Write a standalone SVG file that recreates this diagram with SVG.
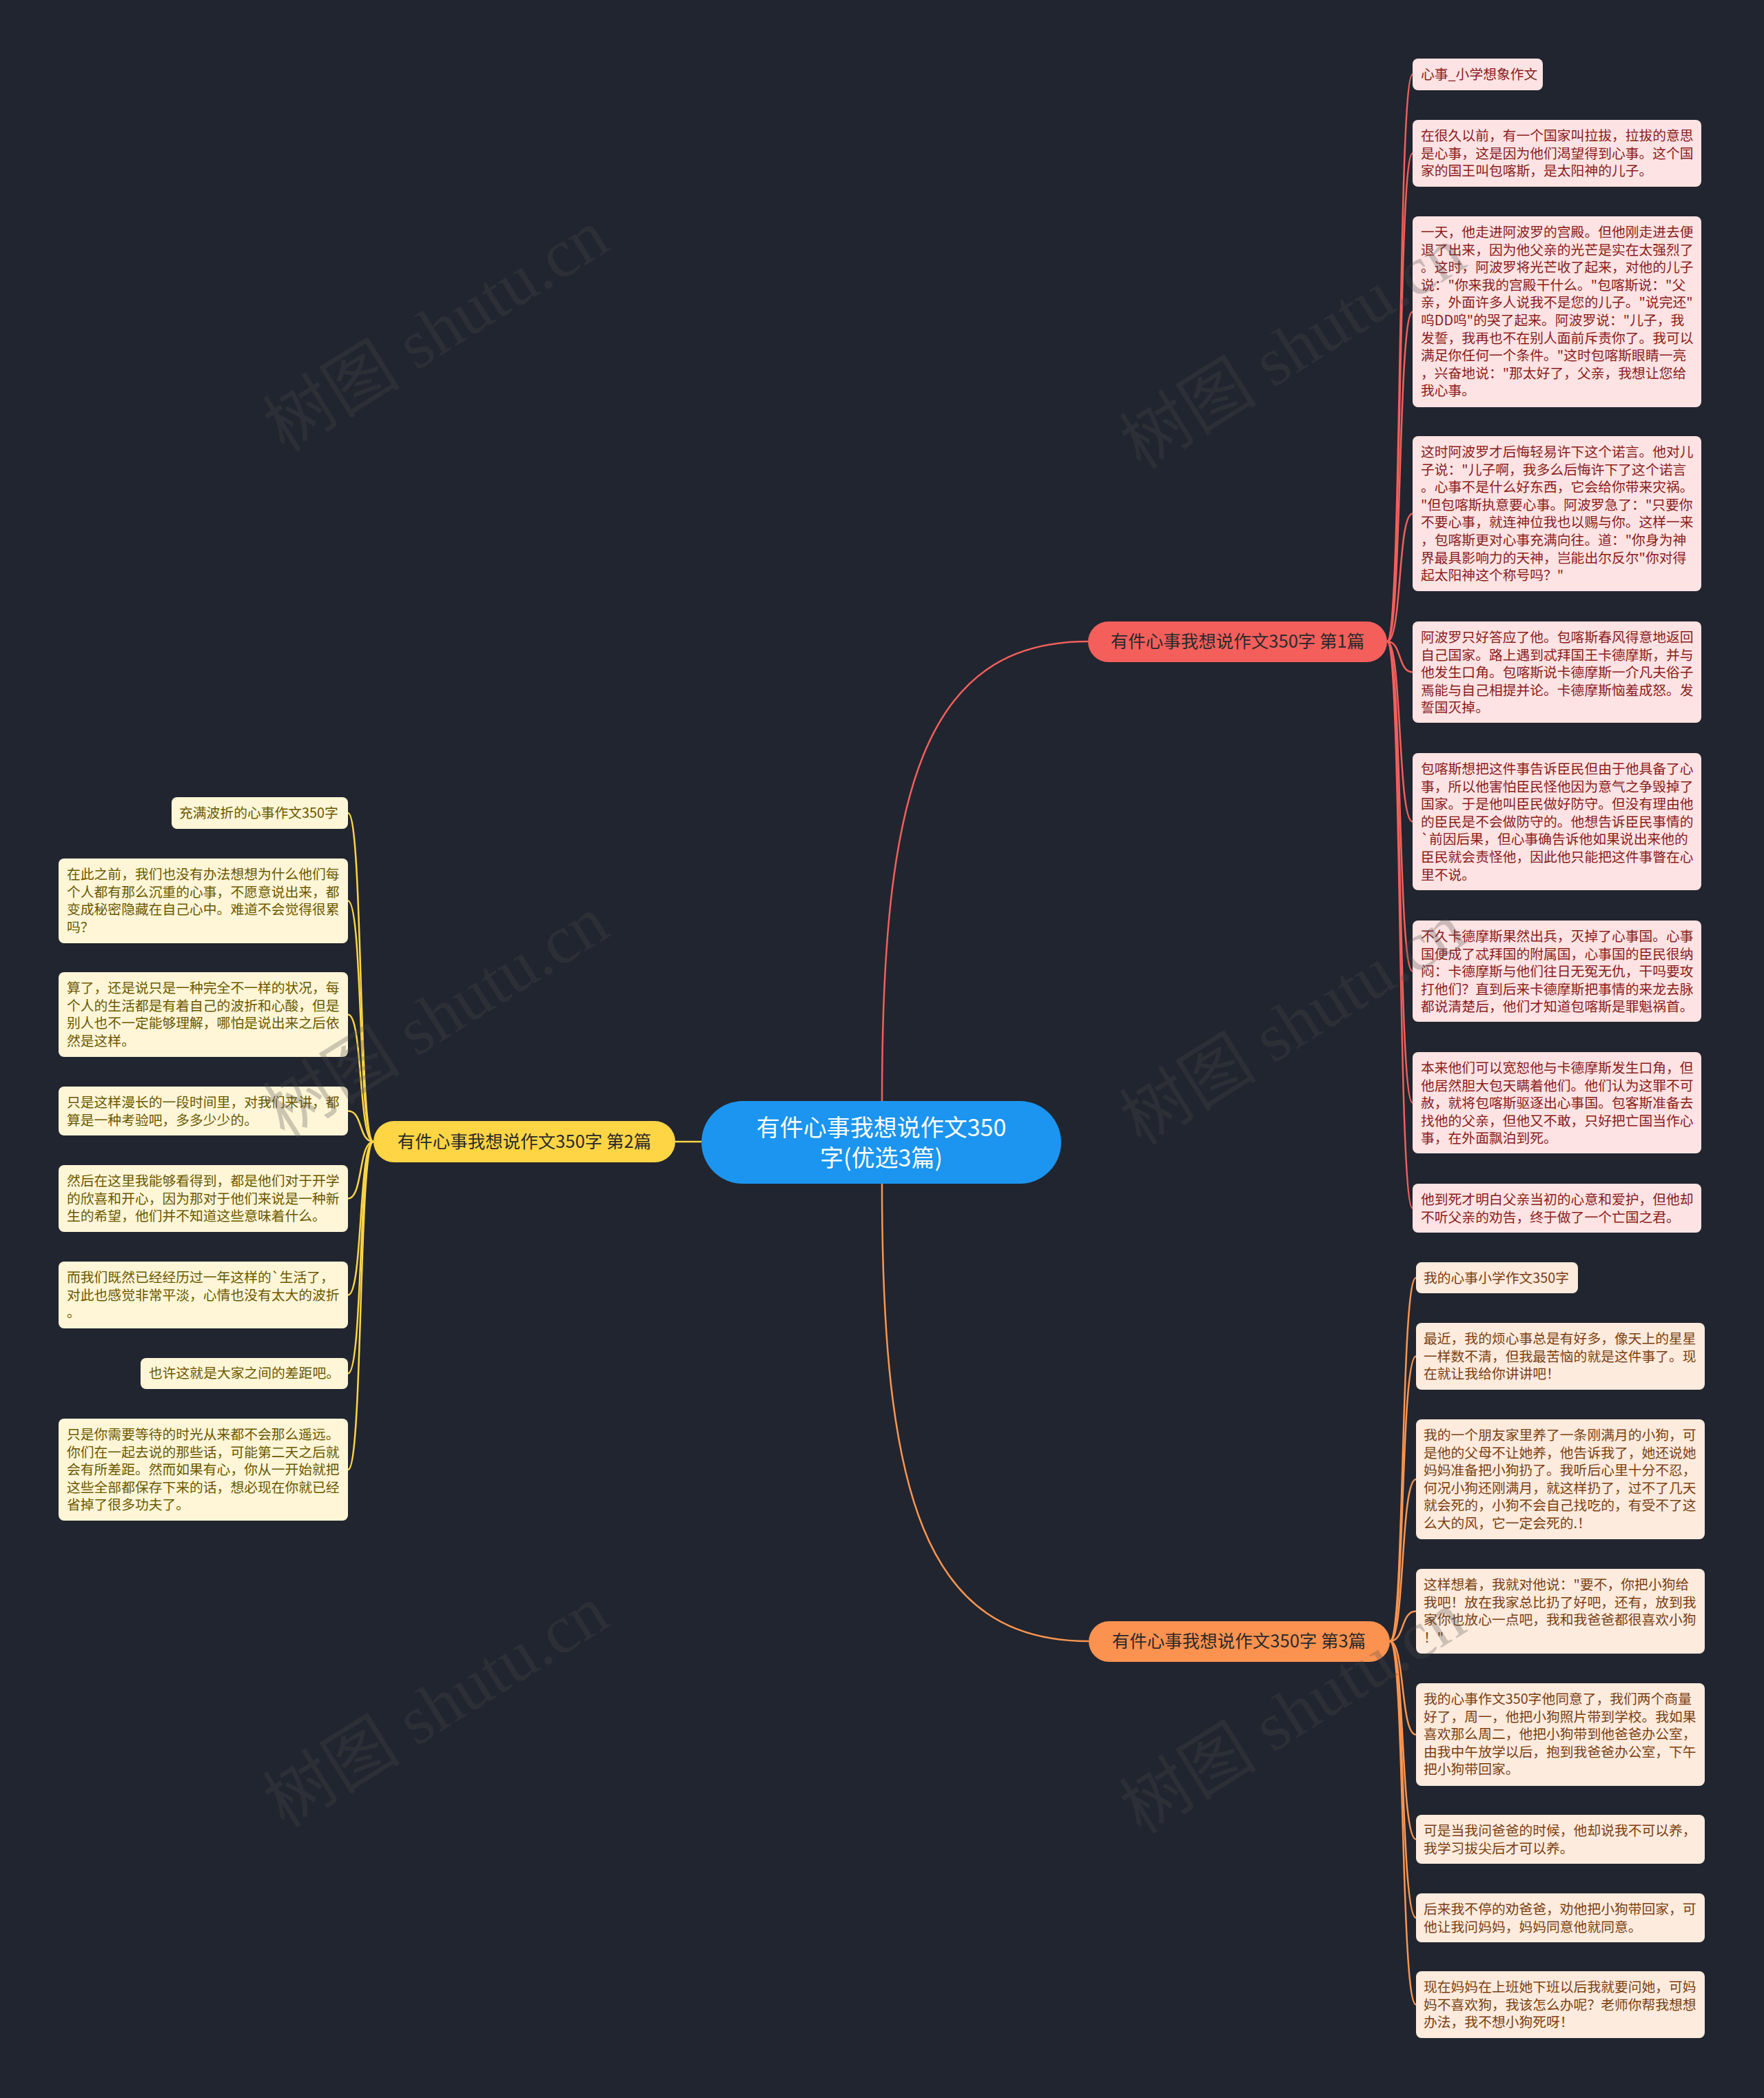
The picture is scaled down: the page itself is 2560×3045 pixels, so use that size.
<svg xmlns="http://www.w3.org/2000/svg" width="2560" height="3045" viewBox="0 0 2560 3045">
<style>
.bg{fill:#21252f}
.con{fill:none;stroke-width:2.5}
.cr{stroke:#f25f5c}
.co{stroke:#fb9550}
.cy{stroke:#fdd545}
text{font-family:"Noto Sans CJK SC","Noto Sans",sans-serif}
.lr rect{fill:#fde3e3}
.lr text{fill:#8a1c1c;font-size:19.8px}
.lo rect{fill:#fdebdd}
.lo text{fill:#7b3f12;font-size:19.8px}
.ly rect{fill:#fef6d7}
.ly text{fill:#6b5800;font-size:19.8px}
.br text{fill:#2a2a2a;font-size:25.5px;text-anchor:middle}
.wm{font-family:"Liberation Serif","Noto Sans CJK SC",serif;font-size:100px;fill:#4c4c4c;fill-opacity:0.28;text-anchor:middle}
</style>
<rect class="bg" x="0" y="0" width="2560" height="3045"/>

<g id="connectors">
<path class="con cr" stroke-width="3" d="M1280,1598 C1280,1150 1340,931 1579,931"/>
<path class="con co" stroke-width="3" d="M1280,1718 C1280,2166 1340,2382 1580,2382"/>
<path class="con cy" stroke-width="3" d="M1018,1657 L980,1657"/>
<path class="con cr" d="M2013,931 C2035,931 2028,108 2050,108"/>
<path class="con cr" d="M2013,931 C2035,931 2028,222.5 2050,222.5"/>
<path class="con cr" d="M2013,931 C2035,931 2028,452.5 2050,452.5"/>
<path class="con cr" d="M2013,931 C2035,931 2028,745.5 2050,745.5"/>
<path class="con cr" d="M2013,931 C2035,931 2028,975.5 2050,975.5"/>
<path class="con cr" d="M2013,931 C2035,931 2028,1192.5 2050,1192.5"/>
<path class="con cr" d="M2013,931 C2035,931 2028,1409.5 2050,1409.5"/>
<path class="con cr" d="M2013,931 C2035,931 2028,1600.5 2050,1600.5"/>
<path class="con cr" d="M2013,931 C2035,931 2028,1753.5 2050,1753.5"/>
<path class="con co" d="M2017,2382 C2039,2382 2032,1854.5 2055,1854.5"/>
<path class="con co" d="M2017,2382 C2039,2382 2032,1968.5 2055,1968.5"/>
<path class="con co" d="M2017,2382 C2039,2382 2032,2147 2055,2147"/>
<path class="con co" d="M2017,2382 C2039,2382 2032,2338.5 2055,2338.5"/>
<path class="con co" d="M2017,2382 C2039,2382 2032,2517.5 2055,2517.5"/>
<path class="con co" d="M2017,2382 C2039,2382 2032,2669.5 2055,2669.5"/>
<path class="con co" d="M2017,2382 C2039,2382 2032,2783.5 2055,2783.5"/>
<path class="con co" d="M2017,2382 C2039,2382 2032,2909.5 2055,2909.5"/>
<path class="con cy" d="M542,1657 C520,1657 527,1180 505,1180"/>
<path class="con cy" d="M542,1657 C520,1657 527,1307.5 505,1307.5"/>
<path class="con cy" d="M542,1657 C520,1657 527,1472.5 505,1472.5"/>
<path class="con cy" d="M542,1657 C520,1657 527,1612.5 505,1612.5"/>
<path class="con cy" d="M542,1657 C520,1657 527,1739.5 505,1739.5"/>
<path class="con cy" d="M542,1657 C520,1657 527,1879.5 505,1879.5"/>
<path class="con cy" d="M542,1657 C520,1657 527,1993.5 505,1993.5"/>
<path class="con cy" d="M542,1657 C520,1657 527,2133 505,2133"/>
</g>

<g id="center">
<rect x="1018" y="1598" width="522" height="120" rx="60" fill="#1b95ef"/>
<text x="1279" y="1649" fill="#ffffff" font-size="34" text-anchor="middle">有件心事我想说作文350</text>
<text x="1279" y="1693" fill="#ffffff" font-size="34" text-anchor="middle">字(优选3篇)</text>
</g>

<g id="branch1" class="br">
<rect x="1579" y="902" width="434" height="59" rx="29.5" fill="#f45f5c"/>
<text x="1796" y="940">有件心事我想说作文350字 第1篇</text>
</g>
<g id="branch2" class="br">
<rect x="542" y="1627" width="438" height="60" rx="30" fill="#fdd545"/>
<text x="761" y="1666">有件心事我想说作文350字 第2篇</text>
</g>
<g id="branch3" class="br">
<rect x="1580" y="2353" width="437" height="59" rx="29.5" fill="#fc9250"/>
<text x="1798" y="2391">有件心事我想说作文350字 第3篇</text>
</g>

<g id="r1" class="lr"><rect x="2050" y="85" width="189" height="46" rx="8"/>
<text x="2062" y="115">心事_小学想象作文</text></g>
<g id="r2" class="lr"><rect x="2050" y="174" width="419" height="97" rx="8"/>
<text x="2062" y="204"><tspan x="2062">在很久以前，有一个国家叫拉拔，拉拔的意思</tspan><tspan x="2062" dy="25.6">是心事，这是因为他们渴望得到心事。这个国</tspan><tspan x="2062" dy="25.6">家的国王叫包喀斯，是太阳神的儿子。</tspan></text></g>
<g id="r3" class="lr"><rect x="2050" y="314" width="419" height="277" rx="8"/>
<text x="2062" y="344"><tspan x="2062">一天，他走进阿波罗的宫殿。但他刚走进去便</tspan><tspan x="2062" dy="25.6">退了出来，因为他父亲的光芒是实在太强烈了</tspan><tspan x="2062" dy="25.6">。这时，阿波罗将光芒收了起来，对他的儿子</tspan><tspan x="2062" dy="25.6">说："你来我的宫殿干什么。"包喀斯说："父</tspan><tspan x="2062" dy="25.6">亲，外面许多人说我不是您的儿子。"说完还"</tspan><tspan x="2062" dy="25.6">呜DD呜"的哭了起来。阿波罗说："儿子，我</tspan><tspan x="2062" dy="25.6">发誓，我再也不在别人面前斥责你了。我可以</tspan><tspan x="2062" dy="25.6">满足你任何一个条件。"这时包喀斯眼睛一亮</tspan><tspan x="2062" dy="25.6">，兴奋地说："那太好了，父亲，我想让您给</tspan><tspan x="2062" dy="25.6">我心事。</tspan></text></g>
<g id="r4" class="lr"><rect x="2050" y="633" width="419" height="225" rx="8"/>
<text x="2062" y="663"><tspan x="2062">这时阿波罗才后悔轻易许下这个诺言。他对儿</tspan><tspan x="2062" dy="25.6">子说："儿子啊，我多么后悔许下了这个诺言</tspan><tspan x="2062" dy="25.6">。心事不是什么好东西，它会给你带来灾祸。</tspan><tspan x="2062" dy="25.6">"但包喀斯执意要心事。阿波罗急了："只要你</tspan><tspan x="2062" dy="25.6">不要心事，就连神位我也以赐与你。这样一来</tspan><tspan x="2062" dy="25.6">，包喀斯更对心事充满向往。道："你身为神</tspan><tspan x="2062" dy="25.6">界最具影响力的天神，岂能出尔反尔"你对得</tspan><tspan x="2062" dy="25.6">起太阳神这个称号吗？"</tspan></text></g>
<g id="r5" class="lr"><rect x="2050" y="902" width="419" height="147" rx="8"/>
<text x="2062" y="932"><tspan x="2062">阿波罗只好答应了他。包喀斯春风得意地返回</tspan><tspan x="2062" dy="25.6">自己国家。路上遇到忒拜国王卡德摩斯，并与</tspan><tspan x="2062" dy="25.6">他发生口角。包喀斯说卡德摩斯一介凡夫俗子</tspan><tspan x="2062" dy="25.6">焉能与自己相提并论。卡德摩斯恼羞成怒。发</tspan><tspan x="2062" dy="25.6">誓国灭掉。</tspan></text></g>
<g id="r6" class="lr"><rect x="2050" y="1093" width="419" height="199" rx="8"/>
<text x="2062" y="1123"><tspan x="2062">包喀斯想把这件事告诉臣民但由于他具备了心</tspan><tspan x="2062" dy="25.6">事，所以他害怕臣民怪他因为意气之争毁掉了</tspan><tspan x="2062" dy="25.6">国家。于是他叫臣民做好防守。但没有理由他</tspan><tspan x="2062" dy="25.6">的臣民是不会做防守的。他想告诉臣民事情的</tspan><tspan x="2062" dy="25.6">`前因后果，但心事确告诉他如果说出来他的</tspan><tspan x="2062" dy="25.6">臣民就会责怪他，因此他只能把这件事瞥在心</tspan><tspan x="2062" dy="25.6">里不说。</tspan></text></g>
<g id="r7" class="lr"><rect x="2050" y="1336" width="419" height="147" rx="8"/>
<text x="2062" y="1366"><tspan x="2062">不久卡德摩斯果然出兵，灭掉了心事国。心事</tspan><tspan x="2062" dy="25.6">国便成了忒拜国的附属国，心事国的臣民很纳</tspan><tspan x="2062" dy="25.6">闷：卡德摩斯与他们往日无冤无仇，干吗要攻</tspan><tspan x="2062" dy="25.6">打他们？直到后来卡德摩斯把事情的来龙去脉</tspan><tspan x="2062" dy="25.6">都说清楚后，他们才知道包喀斯是罪魁祸首。</tspan></text></g>
<g id="r8" class="lr"><rect x="2050" y="1527" width="419" height="147" rx="8"/>
<text x="2062" y="1557"><tspan x="2062">本来他们可以宽恕他与卡德摩斯发生口角，但</tspan><tspan x="2062" dy="25.6">他居然胆大包天瞒着他们。他们认为这罪不可</tspan><tspan x="2062" dy="25.6">赦，就将包喀斯驱逐出心事国。包客斯准备去</tspan><tspan x="2062" dy="25.6">找他的父亲，但他又不敢，只好把亡国当作心</tspan><tspan x="2062" dy="25.6">事，在外面飘泊到死。</tspan></text></g>
<g id="r9" class="lr"><rect x="2050" y="1718" width="419" height="71" rx="8"/>
<text x="2062" y="1748"><tspan x="2062">他到死才明白父亲当初的心意和爱护，但他却</tspan><tspan x="2062" dy="25.6">不听父亲的劝告，终于做了一个亡国之君。</tspan></text></g>

<g id="o1" class="lo"><rect x="2055" y="1832" width="235" height="45" rx="8"/>
<text x="2066" y="1862">我的心事小学作文350字</text></g>
<g id="o2" class="lo"><rect x="2055" y="1920" width="419" height="97" rx="8"/>
<text x="2066" y="1950"><tspan x="2066">最近，我的烦心事总是有好多，像天上的星星</tspan><tspan x="2066" dy="25.6">一样数不清，但我最苦恼的就是这件事了。现</tspan><tspan x="2066" dy="25.6">在就让我给你讲讲吧！</tspan></text></g>
<g id="o3" class="lo"><rect x="2055" y="2060" width="419" height="174" rx="8"/>
<text x="2066" y="2090"><tspan x="2066">我的一个朋友家里养了一条刚满月的小狗，可</tspan><tspan x="2066" dy="25.6">是他的父母不让她养，他告诉我了，她还说她</tspan><tspan x="2066" dy="25.6">妈妈准备把小狗扔了。我听后心里十分不忍，</tspan><tspan x="2066" dy="25.6">何况小狗还刚满月，就这样扔了，过不了几天</tspan><tspan x="2066" dy="25.6">就会死的，小狗不会自己找吃的，有受不了这</tspan><tspan x="2066" dy="25.6">么大的风，它一定会死的.！</tspan></text></g>
<g id="o4" class="lo"><rect x="2055" y="2277" width="419" height="123" rx="8"/>
<text x="2066" y="2307"><tspan x="2066">这样想着，我就对他说："要不，你把小狗给</tspan><tspan x="2066" dy="25.6">我吧！放在我家总比扔了好吧，还有，放到我</tspan><tspan x="2066" dy="25.6">家你也放心一点吧，我和我爸爸都很喜欢小狗</tspan><tspan x="2066" dy="25.6">！"</tspan></text></g>
<g id="o5" class="lo"><rect x="2055" y="2443" width="419" height="149" rx="8"/>
<text x="2066" y="2473"><tspan x="2066">我的心事作文350字他同意了，我们两个商量</tspan><tspan x="2066" dy="25.6">好了，周一，他把小狗照片带到学校。我如果</tspan><tspan x="2066" dy="25.6">喜欢那么周二，他把小狗带到他爸爸办公室，</tspan><tspan x="2066" dy="25.6">由我中午放学以后，抱到我爸爸办公室，下午</tspan><tspan x="2066" dy="25.6">把小狗带回家。</tspan></text></g>
<g id="o6" class="lo"><rect x="2055" y="2634" width="419" height="71" rx="8"/>
<text x="2066" y="2664"><tspan x="2066">可是当我问爸爸的时候，他却说我不可以养，</tspan><tspan x="2066" dy="25.6">我学习拔尖后才可以养。</tspan></text></g>
<g id="o7" class="lo"><rect x="2055" y="2748" width="419" height="71" rx="8"/>
<text x="2066" y="2778"><tspan x="2066">后来我不停的劝爸爸，劝他把小狗带回家，可</tspan><tspan x="2066" dy="25.6">他让我问妈妈，妈妈同意他就同意。</tspan></text></g>
<g id="o8" class="lo"><rect x="2055" y="2861" width="419" height="97" rx="8"/>
<text x="2066" y="2891"><tspan x="2066">现在妈妈在上班她下班以后我就要问她，可妈</tspan><tspan x="2066" dy="25.6">妈不喜欢狗，我该怎么办呢？老师你帮我想想</tspan><tspan x="2066" dy="25.6">办法，我不想小狗死呀！</tspan></text></g>

<g id="y1" class="ly"><rect x="249" y="1157" width="256" height="46" rx="8"/>
<text x="260" y="1187">充满波折的心事作文350字</text></g>
<g id="y2" class="ly"><rect x="85" y="1246" width="420" height="123" rx="8"/>
<text x="97" y="1276"><tspan x="97">在此之前，我们也没有办法想想为什么他们每</tspan><tspan x="97" dy="25.6">个人都有那么沉重的心事，不愿意说出来，都</tspan><tspan x="97" dy="25.6">变成秘密隐藏在自己心中。难道不会觉得很累</tspan><tspan x="97" dy="25.6">吗？</tspan></text></g>
<g id="y3" class="ly"><rect x="85" y="1411" width="420" height="123" rx="8"/>
<text x="97" y="1441"><tspan x="97">算了，还是说只是一种完全不一样的状况，每</tspan><tspan x="97" dy="25.6">个人的生活都是有着自己的波折和心酸，但是</tspan><tspan x="97" dy="25.6">别人也不一定能够理解，哪怕是说出来之后依</tspan><tspan x="97" dy="25.6">然是这样。</tspan></text></g>
<g id="y4" class="ly"><rect x="85" y="1577" width="420" height="71" rx="8"/>
<text x="97" y="1607"><tspan x="97">只是这样漫长的一段时间里，对我们来讲，都</tspan><tspan x="97" dy="25.6">算是一种考验吧，多多少少的。</tspan></text></g>
<g id="y5" class="ly"><rect x="85" y="1691" width="420" height="97" rx="8"/>
<text x="97" y="1721"><tspan x="97">然后在这里我能够看得到，都是他们对于开学</tspan><tspan x="97" dy="25.6">的欣喜和开心，因为那对于他们来说是一种新</tspan><tspan x="97" dy="25.6">生的希望，他们并不知道这些意味着什么。</tspan></text></g>
<g id="y6" class="ly"><rect x="85" y="1831" width="420" height="97" rx="8"/>
<text x="97" y="1861"><tspan x="97">而我们既然已经经历过一年这样的`生活了，</tspan><tspan x="97" dy="25.6">对此也感觉非常平淡，心情也没有太大的波折</tspan><tspan x="97" dy="25.6">。</tspan></text></g>
<g id="y7" class="ly"><rect x="204" y="1971" width="301" height="45" rx="8"/>
<text x="216" y="2000">也许这就是大家之间的差距吧。</text></g>
<g id="y8" class="ly"><rect x="85" y="2059" width="420" height="148" rx="8"/>
<text x="97" y="2089"><tspan x="97">只是你需要等待的时光从来都不会那么遥远。</tspan><tspan x="97" dy="25.6">你们在一起去说的那些话，可能第二天之后就</tspan><tspan x="97" dy="25.6">会有所差距。然而如果有心，你从一开始就把</tspan><tspan x="97" dy="25.6">这些全部都保存下来的话，想必现在你就已经</tspan><tspan x="97" dy="25.6">省掉了很多功夫了。</tspan></text></g>

<g id="watermarks">
<text class="wm" transform="translate(651,509) rotate(-32)">树图 shutu.cn</text>
<text class="wm" transform="translate(1894,534) rotate(-32)">树图 shutu.cn</text>
<text class="wm" transform="translate(651,1505) rotate(-32)">树图 shutu.cn</text>
<text class="wm" transform="translate(1894,1515) rotate(-32)">树图 shutu.cn</text>
<text class="wm" transform="translate(651,2506) rotate(-32)">树图 shutu.cn</text>
<text class="wm" transform="translate(1894,2515) rotate(-32)">树图 shutu.cn</text>
</g>
</svg>
